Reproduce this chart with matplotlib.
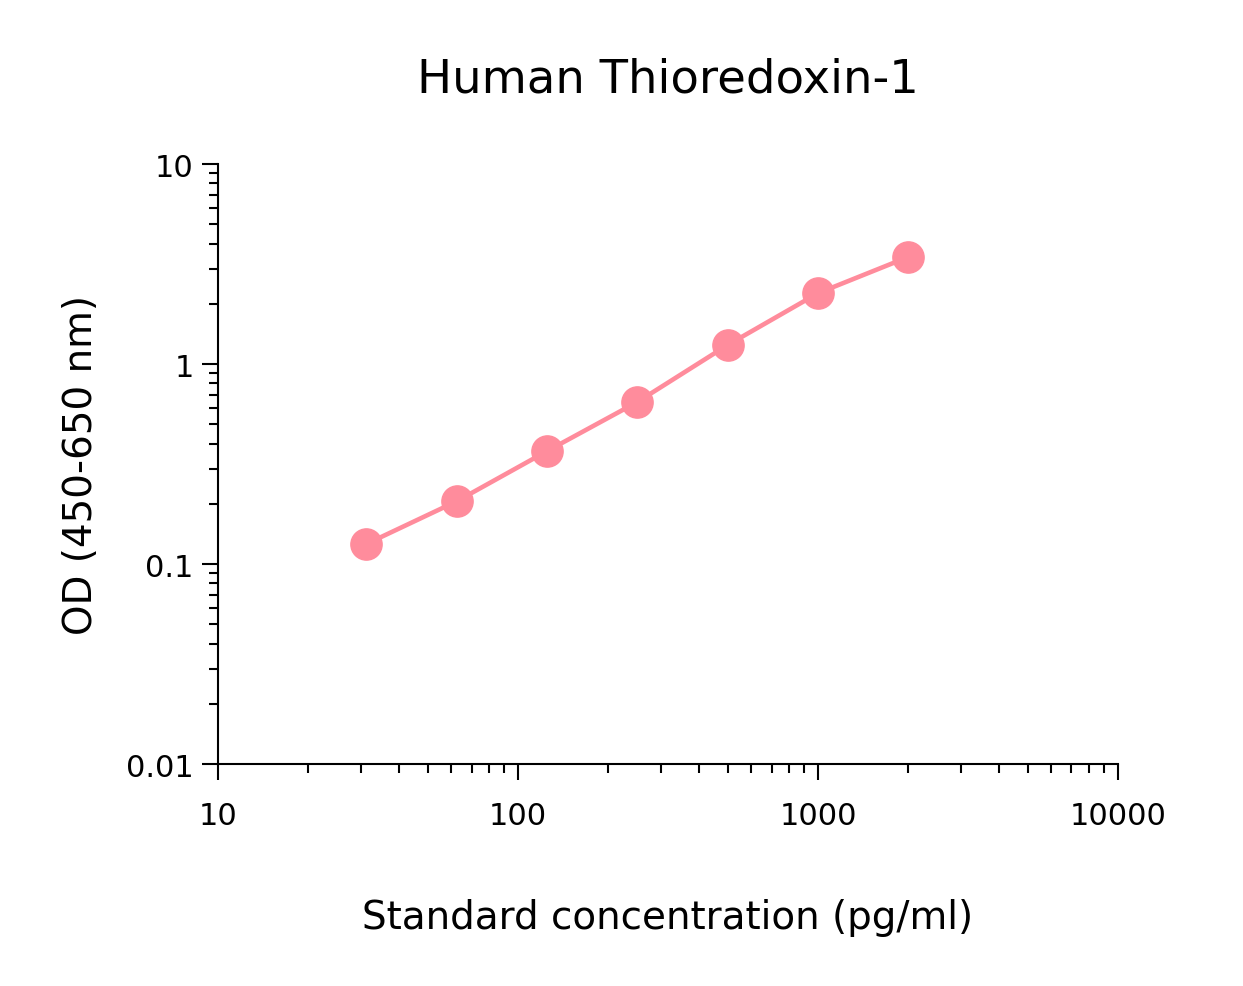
import matplotlib
matplotlib.use('Agg')
import matplotlib.pyplot as plt
from matplotlib.ticker import LogLocator, FixedLocator, FixedFormatter, NullFormatter

# standard curve data
concentration = [31.25, 62.5, 125, 250, 500, 1000, 2000]
od_values = [0.126, 0.206, 0.367, 0.646, 1.245, 2.26, 3.43]

x_ticks = [10, 100, 1000, 10000]
x_labels = ['10', '100', '1000', '10000']
y_ticks = [0.01, 0.1, 1, 10]
y_labels = ['0.01', '0.1', '1', '10']

plt.rcParams['font.family'] = ['DejaVu Sans']

fig = plt.figure(figsize=(12.43, 9.87), dpi=100)
ax = fig.add_axes([0.1754, 0.2249, 0.724, 0.6079])

ax.plot(concentration, od_values, color='#FF8C9C', linewidth=3.3,
        marker='o', markersize=22.5, clip_on=False)

ax.set_xscale('log')
ax.set_yscale('log')
ax.set_xlim(10, 10000)
ax.set_ylim(0.01, 10)

ax.xaxis.set_major_locator(FixedLocator(x_ticks))
ax.xaxis.set_major_formatter(FixedFormatter(x_labels))
ax.yaxis.set_major_locator(FixedLocator(y_ticks))
ax.yaxis.set_major_formatter(FixedFormatter(y_labels))
ax.xaxis.set_minor_locator(LogLocator(base=10, subs=range(2, 10), numticks=20))
ax.yaxis.set_minor_locator(LogLocator(base=10, subs=range(2, 10), numticks=20))
ax.xaxis.set_minor_formatter(NullFormatter())
ax.yaxis.set_minor_formatter(NullFormatter())

for side in ['top', 'right']:
    ax.spines[side].set_visible(False)
for side in ['left', 'bottom']:
    ax.spines[side].set_linewidth(1.5)

ax.tick_params(which='major', direction='out', length=11.5, width=1.5, labelsize=22)
ax.tick_params(axis='x', which='major', pad=15)
ax.tick_params(axis='y', which='major', pad=6)
ax.tick_params(which='minor', direction='out', length=6.5, width=1.5)

ax.set_title('Human Thioredoxin-1', fontsize=33.5, pad=52)
ax.set_xlabel('Standard concentration (pg/ml)', fontsize=28, labelpad=49)
ax.set_ylabel('OD (450-650 nm)', fontsize=28, labelpad=19)

fig.savefig('out.png', dpi=100)
